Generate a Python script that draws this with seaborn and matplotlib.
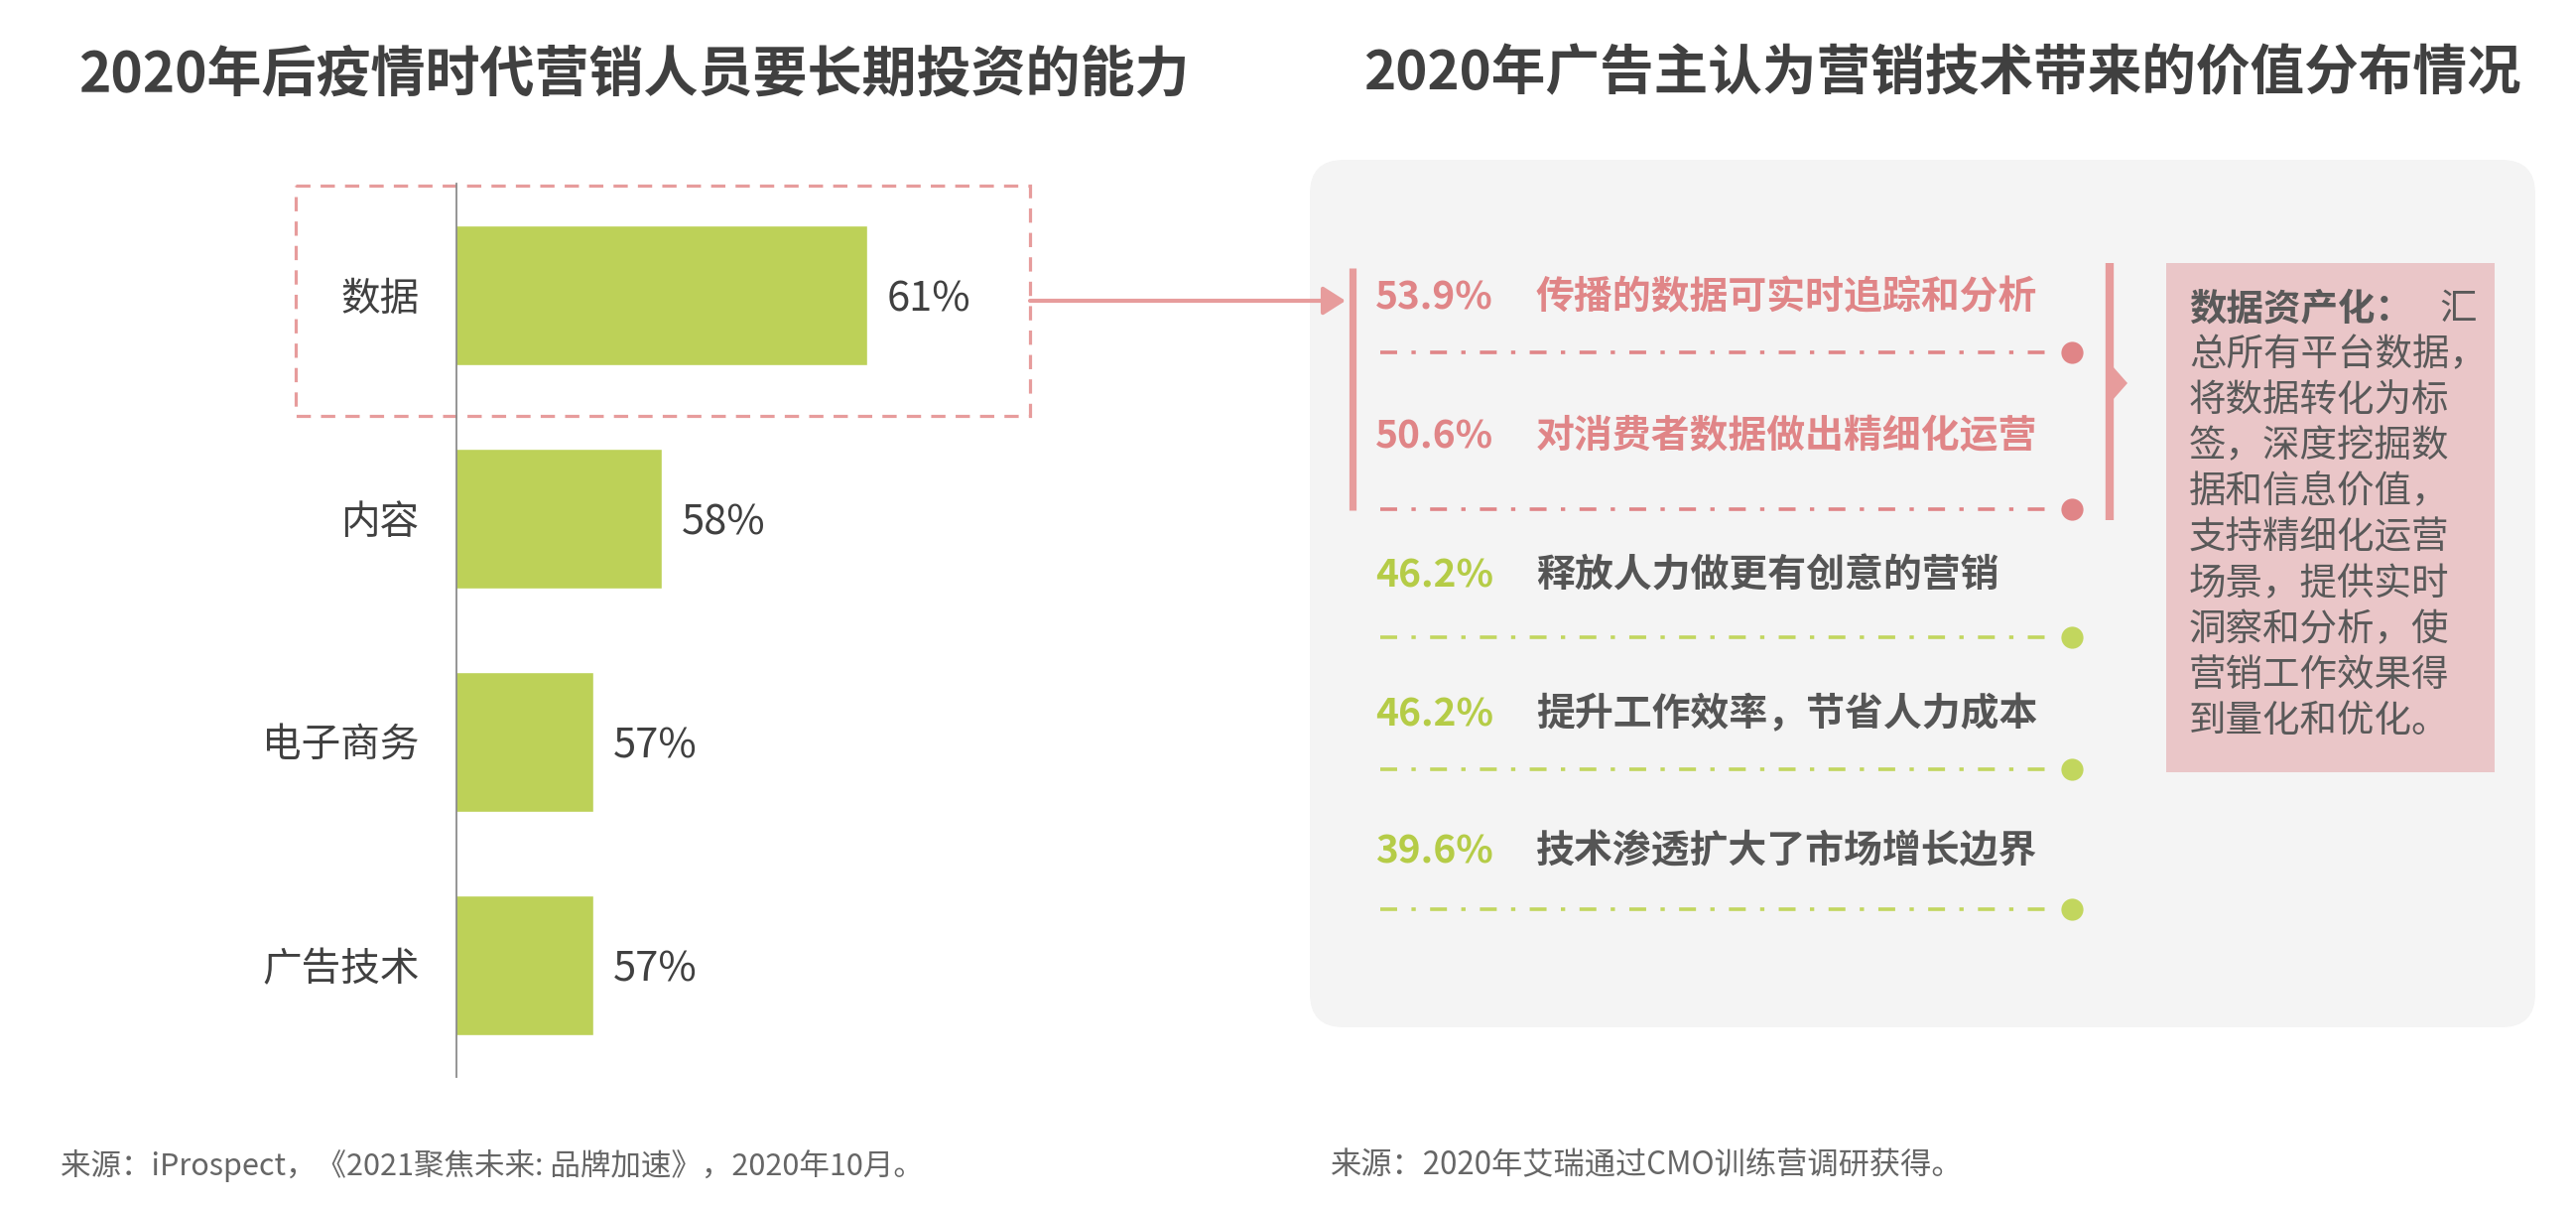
import matplotlib
matplotlib.use("Agg")
import matplotlib.pyplot as plt
import seaborn as sns
import pandas as pd
from matplotlib.patches import Rectangle, FancyBboxPatch, Polygon

# ---------------- data ----------------
skills = ["数据", "内容", "电子商务", "广告技术"]
skill_values = [61, 58, 57, 57]

tech_values = [53.9, 50.6, 46.2, 46.2, 39.6]
tech_labels = ["传播的数据可实时追踪和分析", "对消费者数据做出精细化运营",
               "释放人力做更有创意的营销", "提升工作效率，节省人力成本",
               "技术渗透扩大了市场增长边界"]
tech_highlight = [True, True, False, False, False]

note_head = "数据资产化："
note_lines = ["汇", "总所有平台数据，", "将数据转化为标", "签，深度挖掘数",
              "据和信息价值，", "支持精细化运营", "场景，提供实时",
              "洞察和分析，使", "营销工作效果得", "到量化和优化。"]

title_left = "2020年后疫情时代营销人员要长期投资的能力"
title_right = "2020年广告主认为营销技术带来的价值分布情况"
source_left = "来源：iProspect，《2021聚焦未来: 品牌加速》，2020年10月。"
source_right = "来源：2020年艾瑞通过CMO训练营调研获得。"

# ---------------- style ----------------
sns.set_theme(style="white")
plt.rcParams["font.family"] = ["Noto Sans CJK SC", "DejaVu Sans"]

W, H = 2596, 1216
DPI = 100
GREEN = "#BDD158"
GREEN_LINE = "#C2D65E"
PINK = "#E08587"
PINK_LINE = "#E79C9C"
PINK_BOX = "#EAC6C8"
DARK = "#404040"
GRAY_TXT = "#555555"

fig = plt.figure(figsize=(W / DPI, H / DPI), dpi=DPI)
fig.patch.set_facecolor("white")

# overlay axes in pixel coordinates
ov = fig.add_axes([0, 0, 1, 1])
ov.set_xlim(0, W)
ov.set_ylim(H, 0)
ov.axis("off")
ov.set_zorder(0)

# ---------------- left bar chart ----------------
ax1 = fig.add_axes([460 / W, (H - 1085) / H, 690 / W, 900 / H])
ax1.set_zorder(2)
ax1.patch.set_alpha(0)
df = pd.DataFrame({"skill": skills, "value": skill_values})
sns.barplot(data=df, x="value", y="skill", orient="h", color=GREEN,
            width=0.63, saturation=1, ax=ax1)
ax1.set_xlim(55, 65)
ax1.set_ylim(3.5, -0.5)
ax1.set_xlabel("")
ax1.set_ylabel("")
ax1.set_xticks([])
for s in ["top", "right", "bottom"]:
    ax1.spines[s].set_visible(False)
ax1.spines["left"].set_color("#8C8C8C")
ax1.spines["left"].set_linewidth(1.3)
ax1.tick_params(axis="y", length=0, pad=27, labelsize=28.5, labelcolor=DARK)
for c in ax1.containers:
    texts = ax1.bar_label(c, labels=[f"{v}%" for v in skill_values],
                          padding=14, fontsize=30, color=DARK)
    for t in texts:
        t.set_va("center_baseline")

# dashed highlight box + arrow
ov.add_patch(Rectangle((298, 187), 1038 - 298, 419 - 187, fill=False,
                       edgecolor=PINK_LINE, lw=2.3, ls=(0, (4.5, 3.2)), zorder=3))
ov.annotate("", xy=(1356, 303), xytext=(1038, 303),
            arrowprops=dict(arrowstyle="-|>,head_length=0.55,head_width=0.35",
                            mutation_scale=25, color=PINK_LINE, lw=3,
                            shrinkA=0, shrinkB=0), zorder=4)

# ---------------- titles ----------------
ov.text(79, 75, title_left, fontsize=39.6, fontweight="heavy", color=DARK,
        ha="left", va="center")
ov.text(1374, 75, title_right, fontsize=39.3, fontweight="heavy", color=DARK,
        ha="left", va="center")

# ---------------- right panel ----------------
r = 34
ov.add_patch(FancyBboxPatch((1320 + r, 161 + r), 2555 - 1320 - 2 * r,
                            1035 - 161 - 2 * r, boxstyle=f"round,pad={r}",
                            facecolor="#F4F4F4", edgecolor="none", zorder=1))

text_y = [300, 440, 580, 720, 858]
line_y = [355, 513, 642, 775, 916]
for i, (v, lab, hl) in enumerate(zip(tech_values, tech_labels, tech_highlight)):
    vc = PINK if hl else "#B5CC47"
    tc = PINK if hl else GRAY_TXT
    lc = PINK if hl else GREEN_LINE
    ov.text(1386, text_y[i], f"{v}%", fontsize=28, fontweight="bold",
            color=vc, ha="left", va="center", zorder=3)
    ov.text(1548, text_y[i], lab, fontsize=28, fontweight="bold",
            color=tc, ha="left", va="center", zorder=3)
    ov.plot([1391, 2066], [line_y[i], line_y[i]], color=lc, lw=2.6,
            ls=(0, (4.7, 4.0, 1.2, 4.0)), solid_capstyle="butt", zorder=3)
    ov.plot([2088], [line_y[i]], marker="o", ms=16, color=lc, mec="none",
            zorder=3)

# left bracket
ov.plot([1363, 1363], [270, 514], color=PINK_LINE, lw=5.2,
        solid_capstyle="butt", zorder=3)
# right bracket with pointer
ov.plot([2126, 2126], [265, 524], color=PINK_LINE, lw=6,
        solid_capstyle="butt", zorder=3)
ov.add_patch(Polygon([(2129, 369), (2144, 386), (2129, 403)], closed=True,
                     facecolor=PINK_LINE, edgecolor="none", zorder=3))

# note box
ov.add_patch(Rectangle((2183, 265), 2514 - 2183, 778 - 265,
                       facecolor=PINK_BOX, edgecolor="none", zorder=2))
note_x = 2206
note_y0 = 311
note_dy = 46.2
ov.text(note_x, note_y0, note_head, fontsize=27, fontweight="bold",
        color="#595959", ha="left", va="center", zorder=3)
for i, line in enumerate(note_lines):
    x = 2458 if i == 0 else note_x
    ov.text(x, note_y0 + i * note_dy, line, fontsize=27, color="#595959",
            ha="left", va="center", zorder=3)

# ---------------- sources ----------------
ov.text(61, 1174, source_left, fontsize=22, color="#666666", ha="left",
        va="center")
ov.text(1341, 1174, source_right, fontsize=22.5, color="#666666", ha="left",
        va="center")

fig.savefig("out.png", dpi=DPI, facecolor="white")
